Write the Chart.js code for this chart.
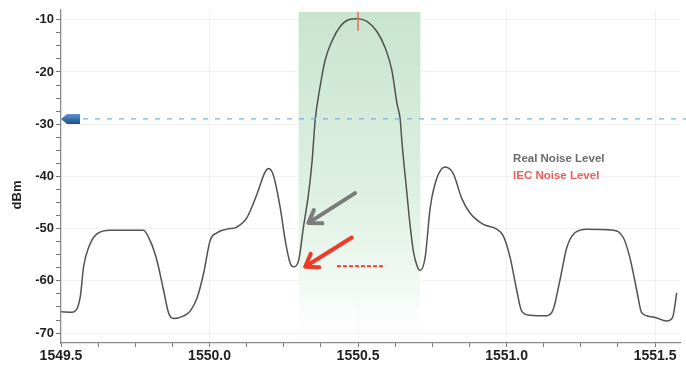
<!DOCTYPE html>
<html>
<head>
<meta charset="utf-8">
<script src="https://cdn.jsdelivr.net/npm/chart.js@4"></script>
<style>
  html, body { margin: 0; padding: 0; background: #fff; }
  #wrap { width: 686px; height: 367px; }
</style>
</head>
<body>
<div id="wrap"><canvas id="spectrum"></canvas></div>
<script>
// trace (nm, dBm)
const wavelengths = [1549.501, 1549.538, 1549.565, 1549.576, 1549.593, 1549.621, 1549.666, 1549.777, 1549.800, 1549.823,
  1549.845, 1549.862, 1549.879, 1549.913, 1549.935, 1549.958, 1549.980, 1550.002, 1550.025, 1550.059,
  1550.092, 1550.126, 1550.159, 1550.187, 1550.199, 1550.215, 1550.238, 1550.255, 1550.272, 1550.283,
  1550.300, 1550.316, 1550.333, 1550.345, 1550.356, 1550.372, 1550.389, 1550.412, 1550.440, 1550.468,
  1550.496, 1550.530, 1550.563, 1550.591, 1550.614, 1550.631, 1550.642, 1550.648, 1550.664, 1550.675,
  1550.686, 1550.698, 1550.709, 1550.726, 1550.743, 1550.765, 1550.793, 1550.821, 1550.849, 1550.877,
  1550.922, 1550.967, 1550.989, 1551.012, 1551.034, 1551.051, 1551.079, 1551.135, 1551.157, 1551.180,
  1551.203, 1551.230, 1551.270, 1551.359, 1551.393, 1551.415, 1551.438, 1551.455, 1551.494, 1551.539,
  1551.559, 1551.573];
const powers = [-65.9, -66.0, -63.0, -57.3, -53.6, -51.0, -50.3, -50.3, -52.3, -56.1,
  -61.7, -66.1, -67.2, -66.7, -65.8, -63.3, -58.6, -52.3, -50.8, -50.1,
  -49.7, -47.9, -43.5, -39.2, -38.5, -39.8, -46.0, -52.3, -56.7, -57.3,
  -56.1, -49.8, -43.5, -37.3, -29.1, -22.9, -17.8, -14.1, -11.3, -10.0,
  -9.8, -10.3, -12.2, -15.3, -19.7, -26.0, -29.1, -33.5, -42.9, -49.2,
  -54.2, -57.0, -58.0, -55.5, -46.0, -40.4, -38.2, -39.5, -44.2, -47.0,
  -49.2, -50.1, -51.4, -55.5, -61.7, -65.8, -66.6, -66.7, -65.5, -59.8,
  -53.6, -50.8, -50.1, -50.3, -51.7, -55.5, -61.7, -66.1, -66.9, -67.7,
  -67.0, -62.3];

const xMajorTicks = [1549.5, 1550.0, 1550.5, 1551.0, 1551.5];
const yMajorTicks = [-70, -60, -50, -40, -30, -20, -10];

// annotations, in data units
const bandRange = [1550.30, 1550.71];
const refLevel = -29;
const peakMark = [1550.5, -8.5, -12.1];
const grayArrow = [[1550.49, -43.2], [1550.333, -48.9]];
const redArrow = [[1550.479, -51.7], [1550.322, -57.3]];
const iecDash = [1550.429, 1550.591, -57.2];
const noiseLabels = ['Real Noise Level', 'IEC Noise Level'];
const noiseLabelPos = [[1551.022, -36.7], [1551.022, -39.9]];

const isMajor = (v, list) => list.some(m => Math.abs(m - v) < 1e-6);

function arrow(ctx, x1, y1, x2, y2, color) {
  const a = Math.atan2(y2 - y1, x2 - x1);
  const h = 14;
  ctx.save();
  ctx.strokeStyle = color;
  ctx.lineWidth = 4;
  ctx.lineCap = 'round';
  ctx.lineJoin = 'round';
  ctx.beginPath();
  ctx.moveTo(x1, y1);
  ctx.lineTo(x2, y2);
  ctx.moveTo(x2 - h * Math.cos(a - 0.6), y2 - h * Math.sin(a - 0.6));
  ctx.lineTo(x2, y2);
  ctx.lineTo(x2 - h * Math.cos(a + 0.6), y2 - h * Math.sin(a + 0.6));
  ctx.stroke();
  ctx.restore();
}

const extras = {
  id: 'extras',
  beforeDatasetsDraw(chart) {
    const { ctx, chartArea, scales: { x, y } } = chart;
    // shaded channel band
    const l = x.getPixelForValue(bandRange[0]);
    const r = x.getPixelForValue(bandRange[1]);
    const t = y.getPixelForValue(-8.5);
    const b = chartArea.bottom;
    const g = ctx.createLinearGradient(0, t, 0, b);
    g.addColorStop(0, '#c8e4cf');
    g.addColorStop(0.55, '#def0e3');
    g.addColorStop(0.85, '#f3faf5');
    g.addColorStop(1, 'rgba(255,255,255,0)');
    ctx.save();
    ctx.fillStyle = g;
    ctx.fillRect(l, t, r - l, b - t);
    ctx.restore();
  },
  afterDatasetsDraw(chart) {
    const { ctx, chartArea, scales: { x, y } } = chart;
    ctx.save();
    // reference level line + marker
    const ry = y.getPixelForValue(refLevel);
    ctx.strokeStyle = '#7eaee2';
    ctx.lineWidth = 1.3;
    ctx.setLineDash([5, 7]);
    ctx.beginPath();
    ctx.moveTo(chartArea.left + 22, ry);
    ctx.lineTo(chartArea.right + 6, ry);
    ctx.stroke();
    ctx.setLineDash([]);
    const mx = chartArea.left;
    const mg = ctx.createLinearGradient(0, ry - 5, 0, ry + 5);
    mg.addColorStop(0, '#5d93cf');
    mg.addColorStop(1, '#1f4f88');
    ctx.fillStyle = mg;
    ctx.beginPath();
    ctx.moveTo(mx, ry);
    ctx.lineTo(mx + 6, ry - 5);
    ctx.lineTo(mx + 19, ry - 5);
    ctx.lineTo(mx + 19, ry + 5);
    ctx.lineTo(mx + 6, ry + 5);
    ctx.closePath();
    ctx.fill();

    // peak marker
    const px = x.getPixelForValue(peakMark[0]);
    ctx.strokeStyle = '#ec6a55';
    ctx.lineWidth = 1.5;
    ctx.beginPath();
    ctx.moveTo(px, y.getPixelForValue(peakMark[1]));
    ctx.lineTo(px, y.getPixelForValue(peakMark[2]));
    ctx.stroke();

    // arrows
    arrow(ctx, x.getPixelForValue(grayArrow[0][0]), y.getPixelForValue(grayArrow[0][1]),
      x.getPixelForValue(grayArrow[1][0]), y.getPixelForValue(grayArrow[1][1]), '#7b7b7b');
    arrow(ctx, x.getPixelForValue(redArrow[0][0]), y.getPixelForValue(redArrow[0][1]),
      x.getPixelForValue(redArrow[1][0]), y.getPixelForValue(redArrow[1][1]), '#ec3b26');

    // IEC noise level dash
    const dy = y.getPixelForValue(iecDash[2]);
    ctx.strokeStyle = '#e8402c';
    ctx.lineWidth = 2;
    ctx.setLineDash([4, 2]);
    ctx.beginPath();
    ctx.moveTo(x.getPixelForValue(iecDash[0]), dy);
    ctx.lineTo(x.getPixelForValue(iecDash[1]), dy);
    ctx.stroke();
    ctx.setLineDash([]);

    // labels
    ctx.font = 'bold 11.5px "Liberation Sans", Arial, sans-serif';
    ctx.textBaseline = 'middle';
    ctx.textAlign = 'left';
    const cols = ['#6a6a6a', '#e9605a'];
    noiseLabels.forEach((txt, i) => {
      ctx.fillStyle = cols[i];
      ctx.fillText(txt, x.getPixelForValue(noiseLabelPos[i][0]), y.getPixelForValue(noiseLabelPos[i][1]));
    });

    // axis title
    ctx.translate(17, 195);
    ctx.rotate(-Math.PI / 2);
    ctx.textAlign = 'center';
    ctx.fillStyle = '#222';
    ctx.font = 'bold 13px "Liberation Sans", Arial, sans-serif';
    ctx.fillText('dBm', 0, 0);
    ctx.restore();
  }
};

new Chart(document.getElementById('spectrum'), {
  type: 'line',
  data: {
    datasets: [{
      data: wavelengths.map((w, i) => ({ x: w, y: powers[i] })),
      borderColor: '#515151',
      borderWidth: 1.5,
      pointRadius: 0,
      cubicInterpolationMode: 'monotone',
      fill: false
    }]
  },
  options: {
    responsive: true,
    maintainAspectRatio: false,
    animation: false,
    layout: { padding: { left: 0, top: 5, right: 6, bottom: 0 } },
    plugins: { legend: { display: false }, tooltip: { enabled: false } },
    scales: {
      x: {
        type: 'linear',
        min: 1549.5,
        max: 1551.584,
        afterFit(scale) { scale.height = 24; },
        border: { color: '#8a8a8a', width: 1.2 },
        grid: {
          color: c => isMajor(c.tick.value, xMajorTicks) ? 'rgba(0,0,0,0.05)' : 'rgba(0,0,0,0)',
          tickColor: '#777',
          tickLength: 4
        },
        ticks: {
          stepSize: 0.125,
          includeBounds: false,
          autoSkip: false,
          maxRotation: 0,
          padding: 1,
          color: '#1e1e1e',
          font: { family: '"Liberation Sans", Arial, sans-serif', size: 14, weight: 'bold' },
          callback: v => isMajor(v, xMajorTicks) ? v.toFixed(1) : ''
        }
      },
      y: {
        min: -71.9,
        max: -8.1,
        afterFit(scale) { scale.width = 61; },
        border: { color: '#8a8a8a', width: 1.2 },
        grid: {
          color: c => isMajor(c.tick.value, yMajorTicks) ? 'rgba(0,0,0,0.05)' : 'rgba(0,0,0,0)',
          tickColor: '#777',
          tickLength: 5
        },
        ticks: {
          stepSize: 2.5,
          includeBounds: false,
          autoSkip: false,
          padding: 2,
          color: '#1e1e1e',
          font: { family: '"Liberation Sans", Arial, sans-serif', size: 13, weight: 'bold' },
          callback: v => isMajor(v, yMajorTicks) ? String(v) : ''
        }
      }
    }
  },
  plugins: [extras]
});
</script>
</body>
</html>
